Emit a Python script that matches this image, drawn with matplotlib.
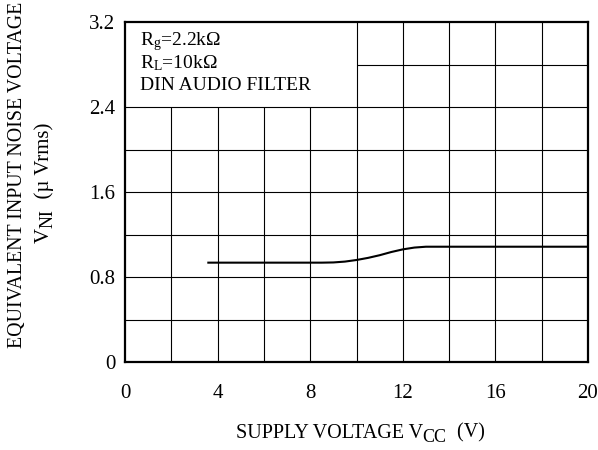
import numpy as np
import matplotlib
matplotlib.use("Agg")
import matplotlib.pyplot as plt

plt.rcParams['font.family'] = ['Liberation Serif', 'DejaVu Serif']
plt.rcParams['mathtext.fontset'] = 'custom'
plt.rcParams['mathtext.rm'] = 'Liberation Serif'
plt.rcParams['mathtext.it'] = 'Liberation Serif:italic'

# curve
vcc = [3.6, 5.0, 7.0, 8.5, 9.0, 9.5, 10.0, 10.5, 11.0, 11.5, 12.0, 12.5, 13.0, 14.0, 16.0, 18.0, 20.0]
vni = [0.935, 0.935, 0.935, 0.935, 0.937, 0.945, 0.96, 0.98, 1.005, 1.035, 1.06, 1.077, 1.085, 1.085, 1.085, 1.085, 1.085]

xticks = [0, 4, 8, 12, 16, 20]
yticks = [0, 0.8, 1.6, 2.4, 3.2]
xgrid = [2, 4, 6, 8, 10, 12, 14, 16, 18]
ygrid = [0.4, 0.8, 1.2, 1.6, 2.0, 2.4]
legend_lines = [r"R$_\mathregular{g}$=2.2k$\Omega$", r"R$_\mathregular{L}$=10k$\Omega$", "DIN AUDIO FILTER"]

W, H = 598, 450
fig = plt.figure(figsize=(W / 100, H / 100), dpi=100)
ax = fig.add_axes([125/W, 1 - 362/H, 463/W, 340/H])
ax.set_xlim(0, 20)
ax.set_ylim(0, 3.2)

# grid: lower part full, upper part only right of the box
ax.vlines(xgrid, 0, 2.4, color='black', lw=0.8)
ax.vlines([x for x in xgrid if x >= 10], 2.4, 3.2, color='black', lw=0.8)
ax.hlines(ygrid, 0, 20, color='black', lw=0.8)
ax.hlines([2.8], 10, 20, color='black', lw=0.8)

ax.plot(vcc, vni, color='black', lw=1.5)

for s in ax.spines.values():
    s.set_linewidth(1.6)

ax.set_xticks(xticks)
ax.set_xticklabels([str(v) for v in xticks])
ax.set_yticks(yticks)
ax.set_yticklabels(['0', '0.8', '1.6', '2.4', '3.2'])
ax.tick_params(length=0, labelsize=15)
ax.tick_params(axis='x', pad=16)
ax.tick_params(axis='y', pad=7)

for i, t in enumerate(legend_lines):
    ax.text(0.65, 3.02 - i * 0.207, t, fontsize=14, ha='left', va='center')

renderer = fig.canvas.get_renderer()


def seq_text(cx, cy, parts, vertical=False):
    # parts: (string, fontsize, drop in px); centred on (cx, cy) in pixels from top-left
    sizes = []
    for s, fs, drop in parts:
        t = fig.text(0, 0, s, fontsize=fs)
        sizes.append(t.get_window_extent(renderer).width)
        t.remove()
    pos = -sum(sizes) / 2
    for (s, fs, drop), w in zip(parts, sizes):
        if vertical:
            x = cx + drop
            y = H - cy + pos
            fig.text(x / W, y / H, s, fontsize=fs, rotation=90, rotation_mode='anchor',
                     ha='left', va='center')
        else:
            x = cx + pos
            y = H - cy - drop
            fig.text(x / W, y / H, s, fontsize=fs, ha='left', va='center')
        pos += w


seq_text(360, 433, [("SUPPLY VOLTAGE V", 14.5, 0), ("CC", 13, 4), ("  (V)", 14.5, 0)])
fig.text(18/W, 1 - 175/H, "EQUIVALENT INPUT NOISE VOLTAGE", fontsize=14.3, rotation=90, ha='center', va='center')
seq_text(44, 183, [("V", 15, 0), ("NI", 13, 4), ("  (\u00b5 Vrms)", 15, 0)], vertical=True)

fig.savefig('out.png', dpi=100)
